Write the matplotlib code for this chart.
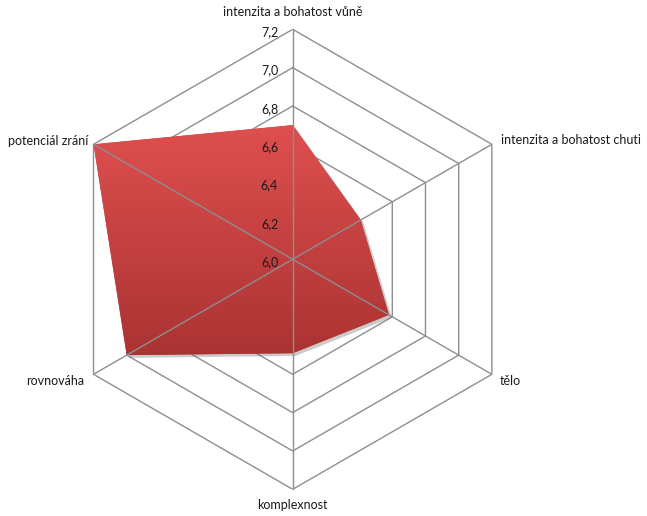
import numpy as np
import matplotlib
matplotlib.use("Agg")
import matplotlib.pyplot as plt
import matplotlib.patheffects as pe

categories = ["intenzita a bohatost vůně", "intenzita a bohatost chuti", "tělo",
              "komplexnost", "rovnováha", "potenciál zrání"]
values = [6.70, 6.41, 6.58, 6.49, 7.00, 7.20]
rticks = [6.0, 6.2, 6.4, 6.6, 6.8, 7.0, 7.2]
rtick_labels = ["6,0", "6,2", "6,4", "6,6", "6,8", "7,0", "7,2"]

W, H = 647, 516
fig = plt.figure(figsize=(W / 100, H / 100), dpi=100)
plt.rcParams['font.family'] = ['Lato', 'DejaVu Sans']

cx, cy, R = 292.7, 259.3, 230.0
ax = fig.add_axes([(cx - R) / W, (H - cy - R) / H, 2 * R / W, 2 * R / H], projection='polar')
ax.set_theta_zero_location('N')
ax.set_theta_direction(-1)
ax.set_ylim(rticks[0], rticks[-1])
ax.grid(False)
ax.spines['polar'].set_visible(False)
ax.set_xticks([])
ax.set_yticks([])
ax.patch.set_alpha(0)

n = len(categories)
theta = np.arange(n) * 2 * np.pi / n
theta_c = np.append(theta, theta[0])

gridc = '#8e8e8e'
for r in rticks[1:]:
    ax.plot(theta_c, [r] * (n + 1), color=gridc, lw=1.0, zorder=1)

vals_c = np.append(values, values[0])
poly = ax.fill(theta_c, vals_c, color='#c84040', lw=0, zorder=2)[0]
poly.set_path_effects([pe.SimplePatchShadow(offset=(2, -2), alpha=0.3, shadow_rgbFace='#555555'),
                       pe.Normal()])

# gradient overlay clipped to polygon
ov = fig.add_axes([0, 0, 1, 1], zorder=ax.get_zorder() + 0.5)
ov.set_axis_off()
ov.patch.set_alpha(0)
top = np.array([224, 80, 80]) / 255
bot = np.array([170, 50, 50]) / 255
t = np.linspace(0, 1, 256)[:, None]
grad = (top[None, :] * (1 - t) + bot[None, :] * t)[:, None, :]
grad = np.repeat(grad, 2, axis=1)
y0 = 1 - 120 / H
y1 = 1 - 360 / H
im = ov.imshow(grad, extent=[0, 1, y1, y0], aspect='auto', origin='upper', zorder=1)
ov.set_xlim(0, 1)
ov.set_ylim(0, 1)
im.set_clip_path(poly)

# spokes above the fill
for tt in theta:
    ov.plot([tt, tt], [rticks[0], rticks[-1]], color=gridc, lw=1.0, zorder=3,
            transform=ax.transData, clip_on=False)

fs = 9.0
for r, lab in zip(rticks, rtick_labels):
    rp = (r - rticks[0]) / (rticks[-1] - rticks[0]) * R
    fig.text(269.5 / W, 1 - (cy - rp + 3.0) / H, lab, ha='center', va='center', fontsize=fs, color='#1a1a1a')

lab_pos = [
    (293, 12, 'center'),
    (501, 140, 'left'),
    (500, 381, 'left'),
    (292, 505, 'center'),
    (84, 381, 'right'),
    (88, 141, 'right'),
]
for cat, (x, y, ha) in zip(categories, lab_pos):
    fig.text(x / W, 1 - y / H, cat, ha=ha, va='center', fontsize=fs, color='#1a1a1a')

fig.savefig('out.png', dpi=100)
